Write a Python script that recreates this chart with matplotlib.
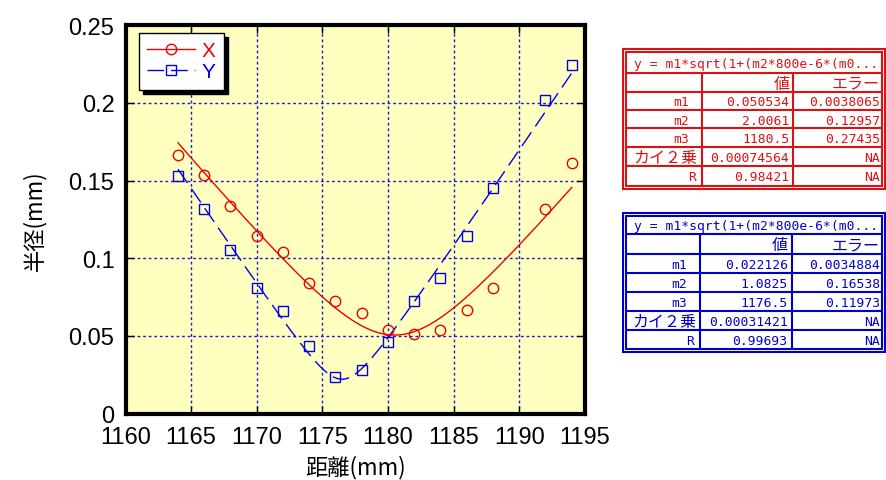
import numpy as np
import matplotlib
matplotlib.use("Agg")
import matplotlib.pyplot as plt
from matplotlib.lines import Line2D
from matplotlib.patches import Rectangle

# measured beam radius along the propagation axis
distance = [1164, 1166, 1168, 1170, 1172, 1174, 1176, 1178, 1180,
            1182, 1184, 1186, 1188, 1192, 1194]
radius_x = [0.1663, 0.1535, 0.1337, 0.1144, 0.1041, 0.0840, 0.0726, 0.0647,
            0.0537, 0.0512, 0.0537, 0.0664, 0.0806, 0.1320, 0.1616]
radius_y = [0.1530, 0.1316, 0.1052, 0.0808, 0.0662, 0.0434, 0.0235, 0.0280,
            0.0458, 0.0726, 0.0872, 0.1140, 0.1451, 0.2019, 0.2247]

# fit results (m1 = waist, m2 = M^2, m3 = waist position)
fit_x = [0.050534, 2.0061, 1180.5]
fit_y = [0.022126, 1.0825, 1176.5]
err_x = [0.0038065, 0.12957, 0.27435]
err_y = [0.0034884, 0.16538, 0.11973]
chi2_x, r_x = 0.00074564, 0.98421
chi2_y, r_y = 0.00031421, 0.99693
wavelength = 800e-6

xticks = [1160, 1165, 1170, 1175, 1180, 1185, 1190, 1195]
yticks = [0, 0.05, 0.1, 0.15, 0.2, 0.25]
ytick_labels = ["0", "0.05", "0.1", "0.15", "0.2", "0.25"]

fit_title = "y = m1*sqrt(1+(m2*800e-6*(m0..."
row_names = ["m1", "m2", "m3", "カイ２乗", "R"]


def beam(z, m1, m2, m3):
    return m1 * np.sqrt(1 + (m2 * wavelength * (z - m3) / (np.pi * m1 ** 2)) ** 2)


W, H = 886, 481
fig = plt.figure(figsize=(W / 100, H / 100), dpi=100)
fig.patch.set_facecolor("white")

ax = fig.add_axes([125.5 / W, 1 - 414.6 / H, (584.8 - 125.5) / W, (414.6 - 26.2) / H])
ax.set_facecolor("#ffffc0")
ax.set_xlim(1160, 1195)
ax.set_ylim(0, 0.25)

RED = "#ee0000"
BLUE = "#0000ee"

ax.grid(True, color="#1a1acc", linestyle=(0, (2, 2)), linewidth=1.0, zorder=0)
ax.set_axisbelow(True)

z = np.linspace(distance[0], distance[-1], 300)
ax.plot(z, beam(z, *fit_x), color=RED, lw=1.0, zorder=3)
ax.plot(z, beam(z, *fit_y), color=BLUE, lw=1.0, linestyle=(0, (12, 5)), zorder=3)
ax.plot(distance, radius_x, linestyle="none", marker="o", ms=7.5, mfc="none",
        mec=RED, mew=1.0, zorder=4)
ax.plot(distance, radius_y, linestyle="none", marker="s", ms=7.5, mfc="none",
        mec=BLUE, mew=1.0, zorder=4)

ax.set_xticks(xticks)
ax.set_xticklabels([str(t) for t in xticks])
ax.set_yticks(yticks)
ax.set_yticklabels(ytick_labels)
ax.tick_params(direction="in", length=6, width=1, top=True, right=True,
               labelsize=17, colors="black")
ax.tick_params(axis="x", pad=9)
ax.tick_params(axis="y", pad=8)
for lab in ax.get_xticklabels() + ax.get_yticklabels():
    lab.set_family("Liberation Sans")
for sp in ax.spines.values():
    sp.set_linewidth(3.0)
    sp.set_color("black")

ax.set_xlabel("距離(mm)", family=["Noto Sans CJK JP", "DejaVu Sans"], fontsize=16, labelpad=5)
ax.set_ylabel("半径(mm)", family=["Noto Sans CJK JP", "DejaVu Sans"], fontsize=16, labelpad=16)

handles = [
    Line2D([], [], color=RED, lw=1.0, marker="o", ms=7.5, mfc="none", mec=RED),
    Line2D([], [], color=BLUE, lw=1.0, linestyle=(0, (12, 5)), marker="s", ms=7.5,
           mfc="none", mec=BLUE),
]
leg = ax.legend(handles, ["X", "Y"], loc="upper left",
                bbox_to_anchor=(139 / W, 1 - 34 / H), bbox_transform=fig.transFigure,
                borderaxespad=0, fancybox=False, framealpha=1, edgecolor="black",
                facecolor="white", labelcolor=[RED, BLUE],
                prop={"family": "Liberation Sans", "size": 15},
                handlelength=2.3, handletextpad=0.3, borderpad=0.4, labelspacing=0.1,
                shadow={"ox": 3, "oy": -3, "facecolor": "black", "edgecolor": "black",
                        "alpha": 1})
leg.get_frame().set_linewidth(1.0)

# parameter tables drawn in pixel space
ov = fig.add_axes([0, 0, 1, 1])
ov.set_xlim(0, W)
ov.set_ylim(H, 0)
ov.axis("off")
ov.patch.set_alpha(0)

MONO = ["DejaVu Sans Mono", "Noto Sans CJK JP"]
CJK = ["Noto Sans CJK JP", "DejaVu Sans"]
FS = 9.4
FS_CJK = 11.5


def draw_table(x0, x1, top, edges, bottom, cols, color, fit, err, chi2, r):
    lw = 1.5
    ov.add_patch(Rectangle((x0, top), x1 - x0, bottom - top, fill=False,
                           ec=color, lw=lw))
    ov.add_patch(Rectangle((x0 + 3, top + 3), x1 - x0 - 6, edges[-1] - top - 3,
                           fill=False, ec=color, lw=lw))
    for yy in edges[:-1]:
        ov.plot([x0 + 3, x1 - 3], [yy, yy], color=color, lw=lw, solid_capstyle="butt")
    for xx in cols:
        ov.plot([xx, xx], [edges[0], edges[-1]], color=color, lw=lw, solid_capstyle="butt")

    ov.text(x0 + 11, (top + 3 + edges[0]) / 2 + 1, fit_title, color=color,
            family=MONO, fontsize=FS, ha="left", va="center")
    hy = (edges[0] + edges[1]) / 2 + 1
    ov.text(cols[1] - 4, hy, "値", color=color, family=CJK, fontsize=FS_CJK,
            ha="right", va="center")
    ov.text(x1 - 5, hy, "エラー", color=color, family=CJK, fontsize=FS_CJK,
            ha="right", va="center")

    values = ["%.5g" % fit[0], "%.5g" % fit[1], "%.5g" % fit[2],
              "%.8f" % chi2, "%.5f" % r]
    errors = ["%.5g" % err[0], "%.5g" % err[1], "%.5g" % err[2], "NA", "NA"]
    for i, name in enumerate(row_names):
        cy = (edges[i + 1] + edges[i + 2]) / 2 + 1
        if name.startswith("m"):
            ov.text(cols[0] - 13, cy, name, color=color, family=MONO, fontsize=FS,
                    ha="right", va="center")
        elif name == "R":
            ov.text(cols[0] - 6, cy, name, color=color, family=MONO, fontsize=FS,
                    ha="right", va="center")
        else:
            ov.text(cols[0] - 4, cy, name, color=color, family=CJK, fontsize=FS_CJK,
                    ha="right", va="center")
        ov.text(cols[1] - 4, cy, values[i], color=color, family=MONO, fontsize=FS,
                ha="right", va="center")
        ov.text(x1 - 5, cy, errors[i], color=color, family=MONO, fontsize=FS,
                ha="right", va="center")


draw_table(623.5, 885, 50, [74, 92.7, 111, 129.3, 148.3, 167.3, 186.7], 189.5,
           [701.7, 793.3], "#dd1111", fit_x, err_x, chi2_x, r_x)
draw_table(623.5, 885, 214, [235, 255, 274, 292.7, 311.7, 330.7, 350], 353,
           [700, 791.7], "#0000cc", fit_y, err_y, chi2_y, r_y)

fig.savefig("out.png", dpi=100, facecolor="white")
